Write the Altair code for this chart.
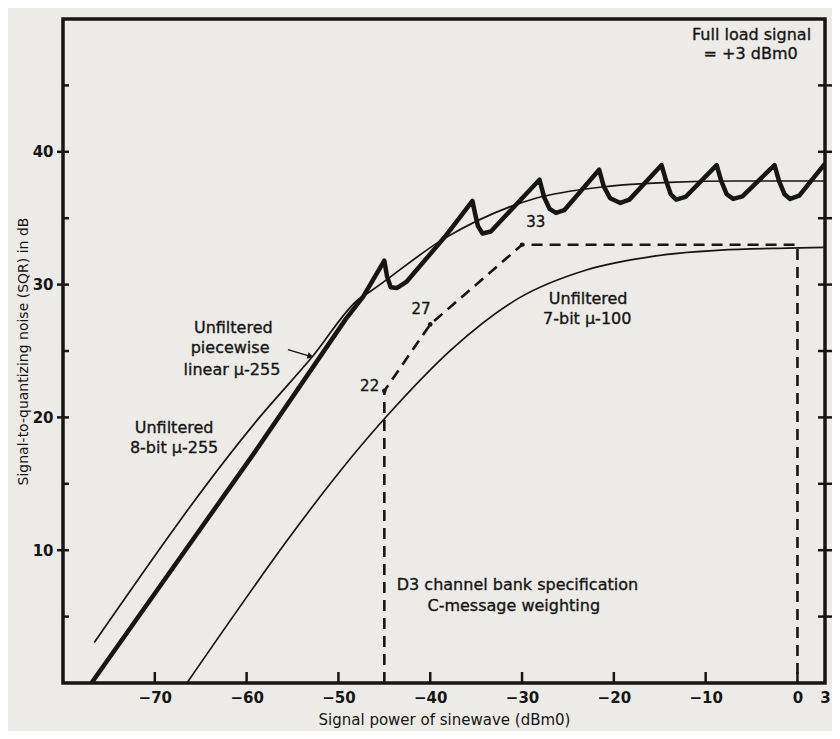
import altair as alt
import pandas as pd

INK = "#161616"
FONT = "DejaVu Sans"

# ---- axis ticks ----
x_ticks = [-70, -60, -50, -40, -30, -20, -10, 0, 3]
x_tick_marks = [-70, -60, -50, -40, -30, -20, -10, 0]
y_labels = [10, 20, 30, 40]
y_minor = [5, 15, 25, 35, 45]
y_right = [5, 10, 15, 20, 25, 30, 35, 40, 45]

# ---- curves (signal power dBm0 -> SQR dB) ----
thick_x = [-76.9, -59.3, -49.2, -47.3, -45.0, -44.7, -44.3, -43.6, -42.6, -38.4,
           -35.4, -35.1, -34.8, -34.3, -33.4, -28.1, -27.6, -27.0, -26.3, -25.4,
           -21.6, -21.1, -20.4, -19.3, -18.3, -14.8, -14.3, -13.8, -13.2, -12.2,
           -8.8, -8.3, -7.7, -7.0, -6.0, -2.5, -2.0, -1.4, -0.8, 0.2, 3.0]
thick_y = [0.0, 17.2, 27.4, 29.1, 31.8, 30.6, 29.8, 29.75, 30.2, 33.6,
           36.3, 35.3, 34.4, 33.85, 34.0, 37.9, 36.6, 35.7, 35.4, 35.6,
           38.65, 37.4, 36.5, 36.15, 36.4, 39.0, 37.8, 36.8, 36.4, 36.6,
           39.0, 37.8, 36.8, 36.45, 36.65, 39.0, 37.8, 36.8, 36.45, 36.7, 39.1]

mu255_x = [-76.6, -58.6, -52.8, -47.8, -46.5, -38.4, -28.5, -21.3, -14.0, -6.7, 3.0]
mu255_y = [3.05, 20.0, 24.6, 28.9, 29.5, 33.5, 36.5, 37.35, 37.7, 37.8, 37.8]

mu100_x = [-66.5, -44.6, -37.7, -30.3, -23.0, -15.6, -8.4, -1.1, 3.0]
mu100_y = [0.0, 20.2, 25.1, 29.0, 31.1, 32.15, 32.6, 32.75, 32.8]

spec_x = [-45, -45, -40, -30, 0, 0]
spec_y = [0, 22, 27, 33, 33, 0]
spec_pt_x = [-45, -40, -30]
spec_pt_y = [22, 27, 33]
spec_pt_label = ["22", "27", "33"]

# ---- annotations ----
notes_text = ["Full load signal", "= +3 dBm0",
              "Unfiltered", "piecewise", "linear \u03bc-255",
              "Unfiltered", "8-bit \u03bc-255",
              "Unfiltered", "7-bit \u03bc-100",
              "D3 channel bank specification", "C-message weighting"]
notes_x = [-5.0, -5.1, -61.45, -61.8, -61.6, -67.9, -67.9, -22.8, -22.9, -30.5, -30.9]
notes_y = [48.8, 47.4, 26.75, 25.2, 23.6, 19.2, 17.7, 28.9, 27.4, 7.4, 5.8]

num_x = [-46.6, -41.0, -28.5]
num_y = [22.4, 28.2, 34.7]

arrow_x = [-55.5, -53.05]
arrow_y = [25.1, 24.6]

# ---- data frames ----
thick_df = pd.DataFrame({"x": thick_x, "y": thick_y})
mu255_df = pd.DataFrame({"x": mu255_x, "y": mu255_y})
mu100_df = pd.DataFrame({"x": mu100_x, "y": mu100_y})
spec_df = pd.DataFrame({"x": spec_x, "y": spec_y, "o": list(range(len(spec_x)))})
spec_pt_df = pd.DataFrame({"x": spec_pt_x, "y": spec_pt_y})
num_df = pd.DataFrame({"x": num_x, "y": num_y, "t": spec_pt_label})
notes_df = pd.DataFrame({"x": notes_x, "y": notes_y, "t": notes_text})
arrow_df = pd.DataFrame({"x": arrow_x, "y": arrow_y})
tip_df = arrow_df.tail(1)
xt_df = pd.DataFrame({"x": x_tick_marks})
yl_df = pd.DataFrame({"y": y_labels})
ym_df = pd.DataFrame({"y": y_minor})
yr_df = pd.DataFrame({"y": y_right})

W, H = 762, 664

x_enc = alt.X("x:Q",
              scale=alt.Scale(domain=[-80, 3], nice=False, zero=False),
              axis=alt.Axis(values=x_ticks, format="d", ticks=False, domain=False, grid=False,
                            labelFlush=False, labelOverlap=False, labelFont=FONT,
                            labelFontWeight="bold", labelFontSize=15, labelPadding=7,
                            labelColor=INK,
                            title="Signal power of sinewave (dBm0)", titleFont=FONT,
                            titleFontSize=15, titleFontWeight="normal", titleColor=INK,
                            titlePadding=7))
y_enc = alt.Y("y:Q",
              scale=alt.Scale(domain=[0, 50], nice=False, zero=False),
              axis=alt.Axis(values=y_labels, format="d", ticks=False, domain=False, grid=False,
                            labelFont=FONT, labelFontWeight="bold", labelFontSize=15,
                            labelPadding=10, labelColor=INK,
                            title="Signal-to-quantizing noise (SQR) in dB", titleFont=FONT,
                            titleFontSize=14, titleFontWeight="normal", titleColor=INK,
                            titlePadding=2))

thick = alt.Chart(thick_df).mark_line(color=INK, strokeWidth=4.5, strokeJoin="round",
                                      strokeCap="butt", clip=True).encode(x=x_enc, y=y_enc)
mu255 = alt.Chart(mu255_df).mark_line(color=INK, strokeWidth=1.7, interpolate="monotone",
                                      clip=True).encode(x=x_enc, y=y_enc)
mu100 = alt.Chart(mu100_df).mark_line(color=INK, strokeWidth=1.7, interpolate="monotone",
                                      clip=True).encode(x=x_enc, y=y_enc)
spec = alt.Chart(spec_df).mark_line(color=INK, strokeWidth=2.6, strokeDash=[11, 7],
                                    clip=True).encode(x=x_enc, y=y_enc, order="o:Q")
spec_pts = alt.Chart(spec_pt_df).mark_point(filled=True, color=INK, size=22,
                                            opacity=1).encode(x=x_enc, y=y_enc)
nums = alt.Chart(num_df).mark_text(font=FONT, fontSize=15, color=INK, stroke=INK,
                                   strokeWidth=0.35, align="center",
                                   baseline="middle").encode(x=x_enc, y=y_enc, text="t:N")
notes = alt.Chart(notes_df).mark_text(font=FONT, fontSize=16, color=INK, stroke=INK,
                                      strokeWidth=0.35, align="center",
                                      baseline="middle").encode(x=x_enc, y=y_enc, text="t:N")
arrow = alt.Chart(arrow_df).mark_line(color=INK, strokeWidth=1.4).encode(x=x_enc, y=y_enc)
tip = alt.Chart(tip_df).mark_point(shape="triangle-right", angle=16, filled=True, color=INK,
                                   size=45, opacity=1).encode(x=x_enc, y=y_enc)

xt = alt.Chart(xt_df).mark_rule(color=INK, strokeWidth=2.5).encode(
    x=x_enc, y=alt.value(H), y2=alt.value(H - 11))
yl = alt.Chart(yl_df).mark_rule(color=INK, strokeWidth=2.5).encode(
    y=y_enc, x=alt.value(-6), x2=alt.value(6))
ym = alt.Chart(ym_df).mark_rule(color=INK, strokeWidth=2.5).encode(
    y=y_enc, x=alt.value(0), x2=alt.value(6))
yr = alt.Chart(yr_df).mark_rule(color=INK, strokeWidth=2.5).encode(
    y=y_enc, x=alt.value(W - 7), x2=alt.value(W + 7))

chart = alt.layer(
    mu255, mu100, spec, spec_pts, thick, xt, yl, ym, yr, arrow, tip, nums, notes
).properties(
    width=W, height=H,
    padding={"left": 55, "top": 11, "right": 7, "bottom": 48},
    autosize=alt.AutoSizeParams(type="none"),
    background="#ecebe7",
).configure_view(stroke=INK, strokeWidth=3.5)

chart.save("out.html", embed_options={"renderer": "svg", "actions": False})
